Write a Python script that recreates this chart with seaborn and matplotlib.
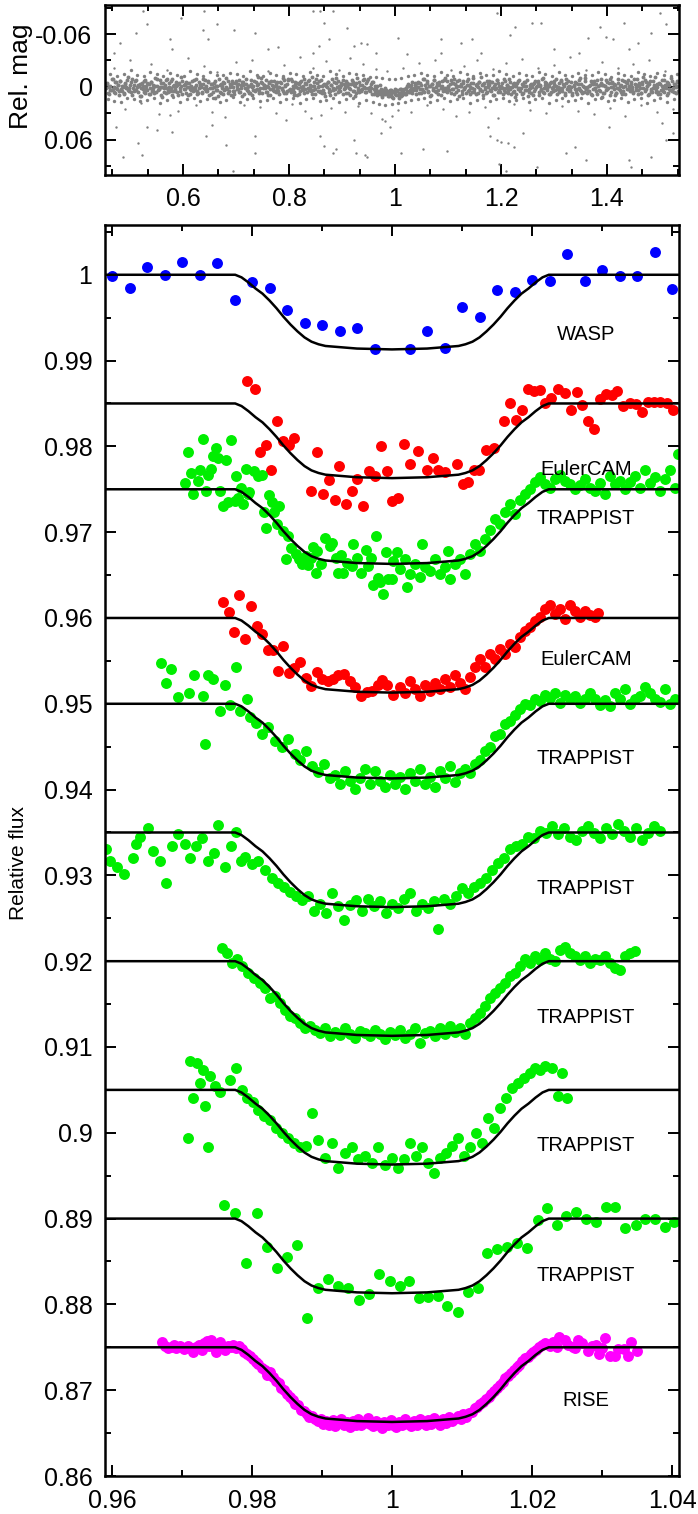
import numpy as np
import matplotlib
matplotlib.use("Agg")
import matplotlib.pyplot as plt
import seaborn as sns
from matplotlib.ticker import MultipleLocator, FuncFormatter

# ---------------- data ----------------
# top panel: folded WASP light curve, phase in 1/1000, mag in 1e-4
band_phase_milli = [
    455, 457, 460, 462, 464, 467, 469, 470, 473, 475, 477, 480,
    482, 485, 486, 489, 491, 493, 496, 498, 499, 502, 504, 507,
    509, 511, 514, 516, 517, 520, 522, 525, 527, 528, 531, 533,
    536, 538, 540, 543, 544, 547, 549, 551, 554, 556, 557, 560,
    562, 565, 567, 569, 572, 573, 576, 578, 580, 583, 585, 586,
    589, 591, 594, 596, 598, 601, 602, 605, 607, 609, 612, 614,
    615, 618, 620, 623, 625, 627, 630, 631, 634, 636, 638, 641,
    643, 644, 647, 649, 652, 654, 656, 659, 660, 663, 665, 667,
    670, 672, 673, 676, 678, 681, 683, 685, 688, 689, 692, 694,
    696, 699, 701, 702, 705, 707, 710, 712, 714, 717, 718, 721,
    723, 725, 728, 730, 731, 734, 736, 739, 741, 743, 746, 747,
    750, 752, 754, 757, 759, 760, 763, 765, 768, 770, 772, 775,
    776, 779, 781, 783, 786, 788, 789, 792, 794, 797, 799, 801,
    804, 805, 808, 810, 812, 815, 817, 818, 821, 823, 826, 828,
    830, 833, 834, 837, 839, 841, 844, 846, 847, 850, 852, 855,
    857, 859, 862, 863, 866, 868, 870, 873, 875, 876, 879, 881,
    884, 886, 888, 891, 892, 895, 897, 899, 902, 904, 905, 908,
    910, 913, 915, 917, 920, 921, 924, 926, 928, 931, 933, 934,
    937, 939, 942, 944, 946, 949, 950, 953, 955, 957, 960, 962,
    963, 966, 968, 971, 973, 975, 978, 979, 982, 984, 986, 989,
    991, 992, 995, 997, 1000, 1002, 1004, 1007, 1008, 1011, 1013, 1015,
    1018, 1020, 1021, 1024, 1026, 1029, 1031, 1033, 1036, 1037, 1040, 1042,
    1044, 1047, 1049, 1050, 1053, 1055, 1058, 1060, 1062, 1065, 1066, 1069,
    1071, 1073, 1076, 1078, 1079, 1082, 1084, 1087, 1089, 1091, 1094, 1095,
    1098, 1100, 1102, 1105, 1107, 1108, 1111, 1113, 1116, 1118, 1120, 1123,
    1124, 1127, 1129, 1131, 1134, 1136, 1137, 1140, 1142, 1145, 1147, 1149,
    1152, 1153, 1156, 1158, 1160, 1163, 1165, 1166, 1169, 1171, 1174, 1176,
    1178, 1181, 1182, 1185, 1187, 1189, 1192, 1194, 1195, 1198, 1200, 1203,
    1205, 1207, 1210, 1211, 1214, 1216, 1218, 1221, 1223, 1224, 1227, 1229,
    1232, 1234, 1236, 1239, 1240, 1243, 1245, 1247, 1250, 1252, 1253, 1256,
    1258, 1261, 1263, 1265, 1268, 1269, 1272, 1274, 1276, 1279, 1281, 1282,
    1285, 1287, 1290, 1292, 1294, 1297, 1298, 1301, 1303, 1305, 1308, 1310,
    1311, 1314, 1316, 1319, 1321, 1323, 1326, 1327, 1330, 1332, 1334, 1337,
    1339, 1340, 1343, 1345, 1348, 1350, 1352, 1355, 1356, 1359, 1361, 1363,
    1366, 1368, 1369, 1372, 1374, 1377, 1379, 1381, 1384, 1385, 1388, 1390,
    1392, 1395, 1397, 1398, 1401, 1403, 1406, 1408, 1410, 1413, 1414, 1417,
    1419, 1421, 1424, 1426, 1427, 1430, 1432, 1435, 1437, 1439, 1442, 1443,
    1446, 1448, 1450, 1453, 1455, 1456, 1459, 1461, 1464, 1466, 1468, 1471,
    1472, 1475, 1477, 1479, 1482, 1484, 1485, 1488, 1490, 1493, 1495, 1497,
    1500, 1501, 1504, 1506, 1508, 1511, 1513, 1514, 1517, 1519, 1522, 1524,
    1526, 1529, 1530, 1533, 1535]
band_mag_e4 = [
    12, -45, 78, -8, 33, -92, 55, 4, -61, 27, -19, 88,
    -70, 41, -3, 66, -38, 15, -115, 49, 9, -52, 96, -24,
    37, -81, 2, 58, -14, 104, -47, 21, -66, 73, -5, 30,
    -28, 85, -56, 11, 47, -99, 63, -12, 25, -74, 6, 118,
    -40, 17, 69, -88, 35, -2, 52, -63, 90, -21, 44, -7,
    61, -33, 8, -107, 76, -18, 29, -54, 3, 95, -41, 19,
    -9, 50, -77, 36, -25, 82, -60, 14, -3, 67, -94, 23,
    45, -16, -70, 91, -36, 7, 58, -48, 126, -11, 32, -85,
    -22, 74, 10, -58, 39, -97, 18, 64, -30, 1, -68, 51,
    83, -44, 26, -6, -79, 57, -27, 100, -52, 13, -90, 40,
    -13, 69, -38, 4, 87, -63, 31, -20, -110, 46, 9, -57,
    71, -26, 15, -84, 53, -4, -42, 92, -17, 34, -72, 60,
    -35, 5, 80, -51, 22, -96, 43, -10, 66, -29, -81, 18,
    54, -64, 28, 97, -23, -46, 11, 75, -58, -2, 39, -87,
    20, -31, 63, -75, 8, 48, -112, 30, -15, 84, -50, 2,
    -66, 41, -12, 70, -37, 105, -8, -55, 26, 61, -24, -93,
    16, 79, -43, 6, -70, 35, 52, -19, -84, 24, -1, 67,
    -48, 13, 90, -32, 44, -61, -7, 73, -98, 37, 58, -20,
    27, -73, 3, 62, -39, 17, -86, 49, 10, -56, 81, -14,
    42, -5, 68, -27, 55, 90, 31, 78, 12, 66, 104, 47,
    85, 36, 118, 60, 22, 97, 48, 130, 74, 28, 92, 55,
    70, 14, 83, -10, 57, 40, -26, 66, 9, -48, 35, -3,
    -58, 24, 71, -19, 46, -87, 12, -40, 63, -6, 98, -33,
    30, -77, 52, -1, -44, 86, -23, 15, -65, 41, 7, -100,
    59, -14, 34, -82, 20, -50, 77, -28, 4, -62, 108, -9,
    -37, 47, -71, 11, 64, -25, -89, 39, -4, 56, -46, 23,
    81, -18, 6, -59, 33, -118, 50, -30, 18, 72, -66, 2,
    -21, 44, -53, 95, -12, 28, -76, 60, -40, 9, -5, 85,
    37, -63, 14, -26, 68, -91, 25, -2, 53, -47, 120, -16,
    -68, 7, 46, -35, 79, -11, -57, 32, -84, 19, 61, -29,
    3, 90, -50, 24, -8, -72, 57, -22, 40, -99, 14, 65,
    -45, 31, -6, 76, -60, 12, 49, -34, -88, 22, -3, 58,
    17, -79, 43, -15, 94, -41, 6, -67, 35, -1, 71, -24,
    -54, 28, 82, -36, 9, -103, 47, -11, 63, -70, 20, -4,
    41, -19, -62, 88, -30, 15, 52, -83, -7, 36, -45, 110,
    -27, 64, -9, -74, 26, -48, 93, 5, -58, 18, -36, 73,
    11, -87, 39, -20, 57, -3, -66, 80, -42, 29, -13, 48,
    -61, 22, 67, -31, 4, -95, 35, -16, 74, -52, 10, -78,
    46, -6, -40, 85, -69, 19, 55, -25, -113, 31, -1, 62,
    -34, 76, -12, 41, -82, 8, -54, 97, -21, 37, -64, 16,
    59, -28, 3, -70, 44]
band2_phase_milli = [
    456, 459, 461, 463, 466, 468, 471, 472, 474, 477, 479, 481,
    483, 484, 488, 490, 492, 495, 497, 500, 501, 503, 506, 508,
    510, 512, 515, 518, 519, 521, 524, 526, 529, 530, 532, 535,
    537, 539, 542, 544, 546, 548, 550, 553, 555, 558, 559, 561,
    564, 566, 568, 570, 571, 574, 577, 579, 581, 582, 584, 587,
    588, 590, 593, 595, 597, 599, 603, 604, 606, 608, 611, 613,
    616, 617, 619, 622, 624, 626, 628, 632, 633, 635, 637, 640,
    642, 645, 646, 648, 651, 653, 655, 658, 661, 662, 664, 666,
    669, 671, 674, 675, 677, 680, 682, 684, 686, 690, 691, 693,
    695, 697, 700, 703, 704, 706, 709, 711, 713, 716, 719, 720,
    722, 724, 727, 729, 732, 733, 735, 738, 740, 742, 744, 748,
    749, 751, 753, 756, 758, 761, 762, 764, 767, 769, 771, 773,
    777, 778, 780, 782, 785, 787, 790, 791, 793, 796, 798, 800,
    803, 806, 807, 809, 811, 814, 816, 819, 820, 822, 825, 827,
    829, 831, 835, 836, 838, 840, 843, 845, 848, 849, 851, 854,
    856, 858, 860, 864, 865, 867, 869, 872, 874, 877, 878, 880,
    883, 885, 887, 889, 893, 894, 896, 898, 901, 903, 906, 907,
    909, 911, 914, 916, 918, 922, 923, 925, 927, 930, 932, 935,
    936, 938, 941, 943, 945, 947, 951, 952, 954, 956, 959, 961,
    964, 965, 967, 970, 972, 974, 976, 980, 981, 983, 985, 988,
    990, 993, 994, 996, 999, 1001, 1003, 1005, 1009, 1010, 1012, 1014,
    1017, 1019, 1022, 1023, 1025, 1028, 1030, 1032, 1034, 1038, 1039, 1041,
    1043, 1045, 1048, 1051, 1052, 1054, 1057, 1059, 1061, 1063, 1067, 1068,
    1070, 1072, 1074, 1077, 1080, 1081, 1083, 1086, 1088, 1090, 1092, 1096,
    1097, 1099, 1101, 1103, 1106, 1109, 1110, 1112, 1115, 1117, 1119, 1121,
    1125, 1126, 1128, 1130, 1132, 1135, 1138, 1139, 1141, 1144, 1146, 1148,
    1150, 1154, 1155, 1157, 1159, 1161, 1164, 1167, 1168, 1170, 1173, 1175,
    1177, 1179, 1183, 1184, 1186, 1188, 1190, 1193, 1196, 1197, 1199, 1202,
    1204, 1206, 1208, 1212, 1213, 1215, 1217, 1219, 1222, 1225, 1226, 1228,
    1231, 1233, 1235, 1237, 1241, 1242, 1244, 1246, 1248, 1251, 1254, 1255,
    1257, 1260, 1262, 1264, 1266, 1270, 1271, 1273, 1275, 1277, 1280, 1283,
    1284, 1286, 1289, 1291, 1293, 1295, 1299, 1300, 1302, 1304, 1306, 1309,
    1312, 1313, 1315, 1318, 1320, 1322, 1324, 1328, 1329, 1331, 1333, 1335,
    1338, 1341, 1342, 1344, 1347, 1349, 1351, 1353, 1357, 1358, 1360, 1362,
    1364, 1367, 1370, 1371, 1373, 1376, 1378, 1380, 1382, 1386, 1387, 1389,
    1391, 1393, 1396, 1399, 1400, 1402, 1405, 1407, 1409, 1411, 1415, 1416,
    1418, 1420, 1422, 1425, 1428, 1429, 1431, 1434, 1436, 1438, 1440, 1444,
    1445, 1447, 1449, 1451, 1454, 1457, 1458, 1460, 1463, 1465, 1467, 1469,
    1473, 1474, 1476, 1478, 1480, 1483, 1486, 1487, 1489, 1492, 1494, 1496,
    1498, 1502, 1503, 1505, 1507, 1509, 1512, 1515, 1516, 1518, 1521, 1523,
    1525, 1527, 1531, 1532, 1534]
band2_mag_e4 = [
    -31, 64, -2, 40, -86, 19, -53, 71, 8, -24, 47, -69,
    26, -9, 83, -45, 5, -78, 38, -17, 61, -92, 14, 52,
    -64, 35, -20, 98, -37, 11, -5, 57, -83, 29, -48, 76,
    7, -58, 43, -26, 70, -12, -95, 33, 18, -41, 88, -3,
    55, -22, -74, 14, 62, -46, 9, -87, 41, -15, 26, -60,
    -18, 92, -39, 51, -6, -71, 24, -33, 67, -50, 3, 80,
    34, -66, 17, -1, -89, 45, 73, -28, -12, 58, -37, 9,
    -77, 21, 49, -54, 13, 84, -31, 6, -63, 39, -8, 102,
    63, -35, -11, 77, -49, 28, -2, -72, 46, -19, 91, -43,
    -4, 48, -67, 23, -29, 61, 10, -56, -21, 86, -38, 15,
    52, -16, 72, -84, 30, -7, 44, -61, 19, -33, 68, -98,
    -46, 7, -27, 59, -8, 95, -52, 21, -69, 12, 41, -14,
    24, -59, 50, -3, -40, 16, -76, 65, -23, 47, -88, 32,
    -85, 39, -14, 62, -51, 2, 87, -29, 45, -71, 18, -6,
    69, -43, 10, -63, 36, -24, 78, -9, -55, 27, -92, 49,
    -11, 56, -80, 31, -19, 74, -36, 6, -58, 42, 90, -25,
    38, -52, 22, -97, 61, -13, 4, -45, 83, -31, 15, -70,
    -7, 71, -34, 26, -79, 48, -18, 99, -42, 8, -60, 33,
    46, -20, -88, 12, 57, -65, 35, -4, -30, 79, -51, 20,
    60, 23, 95, 41, 76, 18, 112, 50, 84, 33, 68, 102,
    39, 88, 57, 125, 46, 80, 30, 95, 64, 22, 107, 51,
    20, 77, -8, 49, -36, 63, 11, -54, 38, -17, 82, -45,
    -2, 66, -47, 19, -90, 54, -25, 8, -69, 43, -12, 87,
    -38, 13, -73, 60, -21, 35, -56, 96, -10, 25, -82, 48,
    31, -66, 5, -29, 72, -44, 18, -94, 57, -6, 39, -75,
    -15, 85, -50, 27, -3, -64, 47, -26, 81, -40, 11, -105,
    58, -8, -37, 66, -53, 21, -19, 89, -47, 3, 62, -28,
    -71, 40, 12, -56, 94, -33, 7, -82, 30, -14, 53, -39,
    17, -95, 61, -22, 38, -4, -60, 75, -35, 50, -10, 86,
    -44, 26, -81, 8, -18, 69, -57, 37, -6, 103, -26, 14,
    73, -30, 47, -65, 2, -48, 91, -13, 28, -86, 59, -21,
    -58, 9, -23, 83, -41, 56, -1, -72, 36, -11, 78, -46,
    32, -68, 15, -36, 70, -90, 25, 48, -16, 6, -54, 95,
    -9, 54, -43, 18, -77, 40, -28, 64, -3, -99, 22, 71,
    43, -12, 86, -48, 27, -67, 9, -34, 79, -20, 51, -88,
    -26, 68, -5, 36, -60, 14, -92, 53, -39, 3, 97, -18,
    65, -47, 20, -13, 82, -73, 41, -6, -51, 29, -84, 12,
    -36, 6, 59, -87, 34, -21, 75, -44, 10, 66, -30, -115,
    22, -56, -15, 93, -38, 47, -70, 16, -2, 55, -28, 84,
    -50, 35, -79, 8, 62, -25, -6, 71, -42, 19, -96, 44,
    13, -33, 67, -8, -60]
# thinner fringe of the band (phase in 1/1000, mag in 1e-4)
fringe = [
    (458, 132), (463, -141), (470, 158), (476, -127), (483, 175), (489, -150), (495, 121),
    (502, -188), (507, 139), (514, -133), (519, 164), (526, -119), (532, 147), (538, -172),
    (545, 126), (551, -144), (557, 183), (563, -129), (569, 152), (576, -161), (582, 118),
    (588, -137), (594, 169), (601, -124), (607, 142), (613, -179), (620, 131), (626, -146),
    (632, 160), (638, -122), (645, 137), (651, -168), (657, 124), (664, -139), (670, 176),
    (676, -131), (682, 148), (689, -155), (695, 120), (701, -143), (707, 166), (714, -126),
    (720, 139), (726, -182), (733, 128), (739, -134), (745, 157), (751, -120), (758, 145),
    (764, -163), (770, 122), (776, -140), (783, 171), (789, -129), (795, 136), (801, -158),
    (808, 125), (814, -147), (820, 184), (826, -123), (833, 141), (839, -170), (845, 130),
    (852, -136), (858, 162), (864, -121), (870, 149), (877, -186), (883, 127), (889, -142),
    (895, 167), (902, -128), (908, 135), (914, -159), (920, 123), (927, -145), (933, 178),
    (939, -130), (946, 150), (952, -117), (958, 172), (964, -112), (970, 190), (976, -98),
    (982, 205), (988, -90), (994, 198), (1000, -95), (1006, 188), (1012, -105), (1018, 176),
    (1024, -124), (1030, 151), (1036, -138), (1043, 133), (1049, -162), (1055, 126),
    (1061, -131), (1067, 170), (1073, -125), (1079, 143), (1086, -175), (1092, 129),
    (1098, -140), (1104, 158), (1110, -119), (1117, 137), (1123, -166), (1129, 124),
    (1135, -148), (1141, 181), (1148, -127), (1154, 146), (1160, -153), (1166, 121),
    (1172, -135), (1179, 165), (1185, -130), (1191, 140), (1197, -184), (1203, 127),
    (1210, -141), (1216, 161), (1222, -121), (1228, 150), (1234, -157), (1241, 123),
    (1247, -138), (1253, 174), (1259, -128), (1265, 134), (1272, -167), (1278, 128),
    (1284, -145), (1290, 179), (1296, -124), (1303, 144), (1309, -171), (1315, 125),
    (1321, -133), (1327, 163), (1334, -120), (1340, 147), (1346, -160), (1352, 122),
    (1358, -139), (1365, 185), (1371, -131), (1377, 138), (1383, -174), (1389, 126),
    (1396, -143), (1402, 159), (1408, -118), (1414, 151), (1420, -156), (1427, 124),
    (1433, -136), (1439, 172), (1445, -129), (1451, 139), (1458, -165), (1464, 127),
    (1470, -147), (1476, 180), (1482, -122), (1489, 145), (1495, -162), (1501, 123),
    (1507, -137), (1513, 168), (1520, -126), (1526, 141), (1532, -150)]
# scattered outliers of the top panel (phase, rel. mag)
outliers = [
    (0.525, -0.086), (0.533, -0.071), (0.511, -0.061), (0.481, -0.050), (0.470, -0.039),
    (0.575, -0.054), (0.580, -0.043), (0.597, -0.078), (0.639, -0.086), (0.637, -0.065),
    (0.648, -0.054), (0.665, -0.071), (0.696, -0.065), (0.736, -0.061), (0.761, -0.043),
    (0.780, -0.045), (0.846, -0.086), (0.858, -0.086), (0.867, -0.073), (0.875, -0.054),
    (0.856, -0.047), (0.846, -0.039), (0.884, -0.086), (0.909, -0.067), (0.922, -0.047),
    (0.935, -0.050), (0.947, -0.049), (0.964, -0.039), (1.006, -0.056), (1.023, -0.037),
    (1.086, -0.054), (1.086, -0.039), (1.124, -0.050), (1.145, -0.054), (1.162, -0.039),
    (1.192, -0.084), (1.217, -0.059), (1.226, -0.068), (1.259, -0.072), (1.276, -0.072),
    (1.301, -0.043), (1.348, -0.039), (1.365, -0.056), (1.386, -0.068), (1.398, -0.057),
    (1.411, -0.054), (1.432, -0.072), (1.458, -0.050), (1.483, -0.061), (1.512, -0.071),
    (1.500, -0.084), (1.441, -0.043),
    (0.474, 0.045), (0.486, 0.079), (0.516, 0.064), (0.523, 0.077), (0.533, 0.045),
    (0.550, 0.049), (0.575, 0.032), (0.580, 0.051), (0.643, 0.056), (0.655, 0.043),
    (0.681, 0.066), (0.694, 0.095), (0.736, 0.056), (0.736, 0.075), (0.795, 0.037),
    (0.841, 0.035), (0.858, 0.056), (0.867, 0.067), (0.884, 0.075), (0.888, 0.071),
    (0.922, 0.060), (0.926, 0.075), (0.943, 0.077), (0.947, 0.079), (0.973, 0.052),
    (0.981, 0.039), (0.990, 0.045), (1.011, 0.075), (1.053, 0.070), (1.099, 0.073),
    (1.175, 0.045), (1.179, 0.056), (1.192, 0.060), (1.200, 0.062), (1.213, 0.064),
    (1.242, 0.052), (1.225, 0.068), (1.196, 0.087), (1.209, 0.095), (1.268, 0.091),
    (1.323, 0.075), (1.340, 0.068), (1.361, 0.083), (1.403, 0.045), (1.441, 0.083),
    (1.445, 0.091), (1.483, 0.079), (1.512, 0.060), (1.504, 0.041), (1.525, 0.052),
    (0.47, -0.022), (0.49, 0.025), (0.50, -0.030), (0.52, 0.018), (0.54, -0.026),
    (0.555, 0.031), (0.57, -0.019), (0.59, 0.027), (0.61, -0.033), (0.625, 0.021),
    (0.64, -0.024), (0.655, 0.029), (0.665, -0.017), (0.68, 0.034), (0.70, -0.028),
    (0.715, 0.020), (0.73, -0.031), (0.745, 0.023), (0.76, -0.018), (0.775, 0.030),
    (0.79, -0.025), (0.805, 0.019), (0.82, -0.034), (0.83, 0.027), (0.845, -0.021),
    (0.86, 0.032), (0.87, -0.029), (0.88, 0.024), (0.895, -0.019), (0.905, 0.028),
    (0.915, -0.033), (0.93, 0.022), (0.94, -0.026), (0.955, 0.030), (0.965, -0.020),
    (0.975, 0.036), (0.985, -0.018), (0.995, 0.033), (1.005, 0.026), (1.015, -0.022),
    (1.03, 0.029), (1.045, -0.027), (1.06, 0.021), (1.075, -0.031), (1.09, 0.025),
    (1.105, -0.019), (1.115, 0.033), (1.13, -0.024), (1.14, 0.028), (1.155, -0.030),
    (1.17, 0.023), (1.185, -0.020), (1.195, 0.035), (1.21, -0.027), (1.225, 0.019),
    (1.24, -0.032), (1.255, 0.026), (1.27, -0.021), (1.285, 0.030), (1.30, -0.025),
    (1.315, 0.022), (1.33, -0.034), (1.345, 0.027), (1.36, -0.019), (1.375, 0.031),
    (1.39, -0.028), (1.405, 0.024), (1.42, -0.022), (1.435, 0.033), (1.45, -0.026),
    (1.465, 0.020), (1.48, -0.031), (1.495, 0.028), (1.51, -0.018), (1.525, 0.025)]

# transit model shape (depth below each baseline)
model_phase = [0.959, 0.9776, 0.9785, 0.9795, 0.9805, 0.9815, 0.9825, 0.9835, 0.9845,
               0.9855, 0.9865, 0.9875, 0.9885, 0.9895, 0.9905, 0.9920, 0.9950, 1.0000,
               1.0050, 1.0080, 1.0095, 1.0105, 1.0115, 1.0125, 1.0135, 1.0145, 1.0155,
               1.0165, 1.0175, 1.0185, 1.0195, 1.0205, 1.0215, 1.0224, 1.041]
model_depth = [0.0, 0.0, 0.0003, 0.0009, 0.0016, 0.0022, 0.0030, 0.0039, 0.0049,
               0.0058, 0.0066, 0.0073, 0.0078, 0.0081, 0.0083, 0.0084, 0.0086, 0.0087,
               0.0086, 0.0084, 0.0083, 0.0081, 0.0078, 0.0073, 0.0066, 0.0058, 0.0049,
               0.0039, 0.0030, 0.0022, 0.0016, 0.0009, 0.0003, 0.0, 0.0]
model_baselines = [1.0, 0.985, 0.975, 0.96, 0.95, 0.935, 0.92, 0.905, 0.89, 0.875]

# lower panel light curves
wasp_phase = [0.9600, 0.9625, 0.9650, 0.9675, 0.9700, 0.9725, 0.9750, 0.9775, 0.9800, 0.9825,
              0.9850, 0.9875, 0.9900, 0.9925, 0.9950, 0.9975, 1.0025, 1.0050, 1.0075, 1.0100,
              1.0125, 1.0150, 1.0175, 1.0200, 1.0225, 1.0250, 1.0275, 1.0300, 1.0325, 1.0350,
              1.0375, 1.0400]
wasp_flux = [0.9999, 0.9984, 1.0009, 1.0000, 1.0015, 1.0000, 1.0014, 0.9971, 0.9992, 0.9985,
             0.9959, 0.9944, 0.9942, 0.9935, 0.9938, 0.9913, 0.9913, 0.9934, 0.9915, 0.9963,
             0.9951, 0.9982, 0.9980, 0.9994, 0.9993, 1.0024, 0.9993, 1.0005, 0.9998, 0.9998,
             1.0026, 0.9983]

euler1 = [
    (0.9793, 0.9876), (0.9804, 0.9867), (0.9811, 0.9793), (0.9820, 0.9802), (0.9827, 0.9772),
    (0.9836, 0.9829), (0.9844, 0.9806), (0.9853, 0.9802), (0.9860, 0.9810), (0.9884, 0.9748),
    (0.9893, 0.9793), (0.9901, 0.9745), (0.9910, 0.9761), (0.9919, 0.9737), (0.9924, 0.9777),
    (0.9934, 0.9733), (0.9943, 0.9748), (0.9950, 0.9762), (0.9959, 0.9730), (0.9967, 0.9771),
    (0.9976, 0.9765), (0.9984, 0.9800), (0.9993, 0.9771), (1.0000, 0.9736), (1.0009, 0.9740),
    (1.0017, 0.9803), (1.0026, 0.9780), (1.0037, 0.9795), (1.0050, 0.9773), (1.0059, 0.9786),
    (1.0066, 0.9773), (1.0076, 0.9770), (1.0093, 0.9780), (1.0101, 0.9756), (1.0109, 0.9758),
    (1.0117, 0.9772), (1.0124, 0.9772), (1.0134, 0.9796), (1.0146, 0.9798), (1.0160, 0.9829),
    (1.0169, 0.9851), (1.0177, 0.9831), (1.0186, 0.9842), (1.0194, 0.9867), (1.0203, 0.9865),
    (1.0211, 0.9866), (1.0219, 0.9851), (1.0227, 0.9856), (1.0237, 0.9867), (1.0247, 0.9862),
    (1.0256, 0.9842), (1.0264, 0.9863), (1.0271, 0.9848), (1.0280, 0.9829), (1.0289, 0.9820),
    (1.0297, 0.9855), (1.0306, 0.9861), (1.0314, 0.9860), (1.0321, 0.9865), (1.0330, 0.9847),
    (1.0340, 0.9850), (1.0349, 0.9849), (1.0357, 0.9840), (1.0366, 0.9852), (1.0374, 0.9852),
    (1.0383, 0.9852), (1.0393, 0.9851), (1.0401, 0.9842)]

trappist1 = [
    (0.9704, 0.9757), (0.9709, 0.9794), (0.9713, 0.9769), (0.9716, 0.9744), (0.9723, 0.9760),
    (0.9726, 0.9772), (0.9730, 0.9809), (0.9734, 0.9748), (0.9737, 0.9767), (0.9741, 0.9774),
    (0.9744, 0.9789), (0.9749, 0.9798), (0.9751, 0.9786), (0.9754, 0.9748), (0.9759, 0.9730),
    (0.9763, 0.9784), (0.9766, 0.9735), (0.9770, 0.9808), (0.9776, 0.9736), (0.9777, 0.9766),
    (0.9780, 0.9740), (0.9784, 0.9751), (0.9787, 0.9733), (0.9791, 0.9774), (0.9794, 0.9745),
    (0.9796, 0.9747), (0.9803, 0.9771), (0.9809, 0.9766), (0.9814, 0.9767), (0.9817, 0.9724),
    (0.9820, 0.9705), (0.9824, 0.9743), (0.9829, 0.9735), (0.9831, 0.9723), (0.9836, 0.9709),
    (0.9839, 0.9730), (0.9844, 0.9701), (0.9849, 0.9669), (0.9851, 0.9695), (0.9856, 0.9681),
    (0.9863, 0.9674), (0.9867, 0.9669), (0.9871, 0.9663), (0.9877, 0.9672), (0.9880, 0.9662),
    (0.9884, 0.9670), (0.9887, 0.9683), (0.9891, 0.9652), (0.9893, 0.9678), (0.9899, 0.9663),
    (0.9904, 0.9693), (0.9911, 0.9684), (0.9914, 0.9687), (0.9920, 0.9670), (0.9923, 0.9653),
    (0.9927, 0.9673), (0.9930, 0.9653), (0.9936, 0.9664), (0.9943, 0.9660), (0.9944, 0.9686),
    (0.9950, 0.9670), (0.9956, 0.9653), (0.9963, 0.9679), (0.9966, 0.9660), (0.9970, 0.9670),
    (0.9973, 0.9638), (0.9977, 0.9695), (0.9980, 0.9647), (0.9983, 0.9642), (0.9987, 0.9628),
    (0.9991, 0.9677), (0.9994, 0.9645), (1.0000, 0.9645), (1.0001, 0.9666), (1.0007, 0.9677),
    (1.0011, 0.9657), (1.0019, 0.9669), (1.0022, 0.9636), (1.0026, 0.9651), (1.0033, 0.9663),
    (1.0040, 0.9648), (1.0043, 0.9686), (1.0047, 0.9659), (1.0054, 0.9655), (1.0061, 0.9669),
    (1.0069, 0.9651), (1.0076, 0.9659), (1.0080, 0.9678), (1.0083, 0.9645), (1.0090, 0.9663),
    (1.0097, 0.9669), (1.0104, 0.9651), (1.0111, 0.9674), (1.0119, 0.9686), (1.0126, 0.9678),
    (1.0133, 0.9692), (1.0140, 0.9703), (1.0147, 0.9715), (1.0154, 0.9709), (1.0161, 0.9724),
    (1.0169, 0.9733), (1.0176, 0.9721), (1.0183, 0.9738), (1.0190, 0.9744), (1.0197, 0.9750),
    (1.0204, 0.9758), (1.0211, 0.9764), (1.0219, 0.9756), (1.0226, 0.9752), (1.0233, 0.9762),
    (1.0240, 0.9767), (1.0247, 0.9760), (1.0254, 0.9756), (1.0261, 0.9750), (1.0269, 0.9755),
    (1.0276, 0.9762), (1.0283, 0.9752), (1.0290, 0.9748), (1.0297, 0.9757), (1.0304, 0.9744),
    (1.0311, 0.9765), (1.0319, 0.9756), (1.0326, 0.9760), (1.0333, 0.9750), (1.0340, 0.9759),
    (1.0347, 0.9766), (1.0354, 0.9752), (1.0361, 0.9773), (1.0369, 0.9757), (1.0376, 0.9764),
    (1.0383, 0.9748), (1.0390, 0.9762), (1.0397, 0.9773), (1.0404, 0.9752), (1.0409, 0.9791)]

euler2 = [
    (0.9759, 0.9619), (0.9767, 0.9607), (0.9774, 0.9584), (0.9781, 0.9627), (0.9790, 0.9576),
    (0.9799, 0.9614), (0.9807, 0.9591), (0.9814, 0.9581), (0.9823, 0.9563), (0.9830, 0.9563),
    (0.9837, 0.9538), (0.9844, 0.9567), (0.9853, 0.9536), (0.9860, 0.9542), (0.9869, 0.9549),
    (0.9877, 0.9530), (0.9884, 0.9521), (0.9893, 0.9537), (0.9900, 0.9529), (0.9909, 0.9526),
    (0.9916, 0.9529), (0.9923, 0.9533), (0.9931, 0.9535), (0.9940, 0.9526), (0.9947, 0.9520),
    (0.9956, 0.9509), (0.9964, 0.9514), (0.9971, 0.9515), (0.9980, 0.9522), (0.9986, 0.9528),
    (0.9993, 0.9522), (1.0001, 0.9510), (1.0011, 0.9520), (1.0019, 0.9512), (1.0026, 0.9527),
    (1.0033, 0.9517), (1.0040, 0.9509), (1.0047, 0.9522), (1.0054, 0.9515), (1.0061, 0.9524),
    (1.0069, 0.9517), (1.0076, 0.9529), (1.0083, 0.9520), (1.0090, 0.9534), (1.0097, 0.9524),
    (1.0104, 0.9517), (1.0111, 0.9531), (1.0119, 0.9543), (1.0126, 0.9552), (1.0133, 0.9543),
    (1.0140, 0.9558), (1.0147, 0.9552), (1.0154, 0.9564), (1.0161, 0.9558), (1.0169, 0.9570),
    (1.0176, 0.9566), (1.0183, 0.9578), (1.0190, 0.9585), (1.0197, 0.9590), (1.0204, 0.9597),
    (1.0211, 0.9601), (1.0219, 0.9610), (1.0226, 0.9615), (1.0233, 0.9605), (1.0240, 0.9610),
    (1.0247, 0.9599), (1.0254, 0.9615), (1.0261, 0.9608), (1.0269, 0.9601), (1.0276, 0.9608),
    (1.0283, 0.9603), (1.0290, 0.9601), (1.0294, 0.9606)]

trappist2 = [
    (0.9670, 0.9548), (0.9677, 0.9524), (0.9684, 0.9540), (0.9694, 0.9508), (0.9710, 0.9513),
    (0.9717, 0.9533), (0.9730, 0.9509), (0.9733, 0.9453), (0.9737, 0.9533), (0.9744, 0.9529),
    (0.9754, 0.9492), (0.9761, 0.9522), (0.9769, 0.9499), (0.9777, 0.9543), (0.9783, 0.9492),
    (0.9793, 0.9506), (0.9797, 0.9485), (0.9806, 0.9478), (0.9814, 0.9465), (0.9823, 0.9473),
    (0.9833, 0.9457), (0.9843, 0.9450), (0.9851, 0.9459), (0.9861, 0.9442), (0.9869, 0.9434),
    (0.9877, 0.9445), (0.9886, 0.9427), (0.9894, 0.9420), (0.9903, 0.9430), (0.9911, 0.9413),
    (0.9919, 0.9417), (0.9926, 0.9406), (0.9933, 0.9422), (0.9940, 0.9410), (0.9947, 0.9401),
    (0.9954, 0.9414), (0.9961, 0.9424), (0.9969, 0.9406), (0.9976, 0.9422), (0.9983, 0.9410),
    (0.9990, 0.9403), (0.9997, 0.9417), (1.0004, 0.9407), (1.0011, 0.9415), (1.0019, 0.9401),
    (1.0026, 0.9419), (1.0033, 0.9410), (1.0040, 0.9424), (1.0047, 0.9407), (1.0054, 0.9415),
    (1.0061, 0.9403), (1.0069, 0.9422), (1.0076, 0.9413), (1.0083, 0.9427), (1.0090, 0.9409),
    (1.0097, 0.9419), (1.0104, 0.9424), (1.0111, 0.9419), (1.0119, 0.9430), (1.0126, 0.9434),
    (1.0133, 0.9445), (1.0140, 0.9450), (1.0147, 0.9462), (1.0154, 0.9465), (1.0161, 0.9476),
    (1.0169, 0.9480), (1.0176, 0.9487), (1.0183, 0.9494), (1.0190, 0.9500), (1.0197, 0.9499),
    (1.0204, 0.9506), (1.0211, 0.9503), (1.0219, 0.9510), (1.0226, 0.9507), (1.0233, 0.9512),
    (1.0240, 0.9501), (1.0247, 0.9510), (1.0254, 0.9506), (1.0261, 0.9509), (1.0269, 0.9501),
    (1.0276, 0.9506), (1.0283, 0.9512), (1.0290, 0.9506), (1.0297, 0.9499), (1.0304, 0.9504),
    (1.0311, 0.9497), (1.0319, 0.9513), (1.0326, 0.9506), (1.0333, 0.9517), (1.0340, 0.9500),
    (1.0347, 0.9506), (1.0354, 0.9509), (1.0361, 0.9520), (1.0369, 0.9513), (1.0376, 0.9506),
    (1.0383, 0.9502), (1.0390, 0.9517), (1.0397, 0.9500), (1.0404, 0.9506)]

trappist3 = [
    (0.9591, 0.9331), (0.9597, 0.9317), (0.9607, 0.9310), (0.9617, 0.9302), (0.9630, 0.9320),
    (0.9634, 0.9337), (0.9640, 0.9345), (0.9651, 0.9355), (0.9659, 0.9328), (0.9669, 0.9317),
    (0.9677, 0.9291), (0.9686, 0.9334), (0.9694, 0.9348), (0.9704, 0.9337), (0.9711, 0.9320),
    (0.9720, 0.9334), (0.9729, 0.9343), (0.9737, 0.9317), (0.9746, 0.9326), (0.9751, 0.9359),
    (0.9761, 0.9310), (0.9770, 0.9334), (0.9777, 0.9351), (0.9784, 0.9317), (0.9790, 0.9322),
    (0.9800, 0.9313), (0.9809, 0.9317), (0.9819, 0.9306), (0.9829, 0.9297), (0.9837, 0.9291),
    (0.9846, 0.9287), (0.9854, 0.9281), (0.9863, 0.9276), (0.9871, 0.9271), (0.9880, 0.9276),
    (0.9889, 0.9259), (0.9897, 0.9267), (0.9906, 0.9256), (0.9914, 0.9279), (0.9923, 0.9264),
    (0.9931, 0.9248), (0.9940, 0.9266), (0.9949, 0.9271), (0.9957, 0.9259), (0.9966, 0.9273),
    (0.9974, 0.9264), (0.9983, 0.9270), (0.9991, 0.9256), (1.0000, 0.9267), (1.0009, 0.9262),
    (1.0017, 0.9273), (1.0026, 0.9279), (1.0034, 0.9259), (1.0043, 0.9267), (1.0051, 0.9262),
    (1.0060, 0.9270), (1.0066, 0.9238), (1.0074, 0.9273), (1.0083, 0.9267), (1.0091, 0.9276),
    (1.0100, 0.9285), (1.0109, 0.9279), (1.0117, 0.9287), (1.0126, 0.9291), (1.0134, 0.9297),
    (1.0143, 0.9306), (1.0151, 0.9314), (1.0160, 0.9320), (1.0169, 0.9331), (1.0177, 0.9334),
    (1.0186, 0.9337), (1.0194, 0.9345), (1.0203, 0.9343), (1.0211, 0.9352), (1.0220, 0.9349),
    (1.0229, 0.9357), (1.0237, 0.9348), (1.0246, 0.9355), (1.0254, 0.9345), (1.0263, 0.9341),
    (1.0271, 0.9352), (1.0280, 0.9357), (1.0289, 0.9349), (1.0297, 0.9343), (1.0306, 0.9355),
    (1.0314, 0.9348), (1.0323, 0.9360), (1.0331, 0.9352), (1.0340, 0.9345), (1.0349, 0.9355),
    (1.0357, 0.9341), (1.0366, 0.9349), (1.0374, 0.9357), (1.0383, 0.9352)]

trappist4 = [
    (0.9757, 0.9215), (0.9764, 0.9209), (0.9771, 0.9198), (0.9779, 0.9203), (0.9786, 0.9194),
    (0.9794, 0.9186), (0.9803, 0.9180), (0.9811, 0.9174), (0.9819, 0.9169), (0.9826, 0.9157),
    (0.9833, 0.9159), (0.9840, 0.9151), (0.9847, 0.9143), (0.9854, 0.9136), (0.9861, 0.9134),
    (0.9869, 0.9128), (0.9876, 0.9122), (0.9883, 0.9124), (0.9890, 0.9120), (0.9897, 0.9116),
    (0.9904, 0.9122), (0.9911, 0.9113), (0.9919, 0.9117), (0.9926, 0.9114), (0.9933, 0.9122),
    (0.9940, 0.9115), (0.9947, 0.9110), (0.9954, 0.9119), (0.9961, 0.9116), (0.9969, 0.9113),
    (0.9976, 0.9120), (0.9983, 0.9115), (0.9990, 0.9109), (0.9997, 0.9117), (1.0004, 0.9114),
    (1.0011, 0.9120), (1.0019, 0.9110), (1.0026, 0.9115), (1.0033, 0.9122), (1.0040, 0.9105),
    (1.0047, 0.9116), (1.0054, 0.9119), (1.0061, 0.9113), (1.0069, 0.9122), (1.0076, 0.9115),
    (1.0083, 0.9124), (1.0090, 0.9117), (1.0097, 0.9122), (1.0104, 0.9115), (1.0111, 0.9128),
    (1.0119, 0.9134), (1.0126, 0.9140), (1.0133, 0.9148), (1.0140, 0.9157), (1.0147, 0.9163),
    (1.0154, 0.9169), (1.0161, 0.9174), (1.0169, 0.9183), (1.0176, 0.9186), (1.0183, 0.9194),
    (1.0190, 0.9203), (1.0197, 0.9198), (1.0204, 0.9206), (1.0211, 0.9201), (1.0219, 0.9209),
    (1.0226, 0.9203), (1.0233, 0.9200), (1.0240, 0.9213), (1.0247, 0.9217), (1.0254, 0.9209),
    (1.0261, 0.9206), (1.0269, 0.9201), (1.0276, 0.9206), (1.0283, 0.9198), (1.0290, 0.9203),
    (1.0297, 0.9201), (1.0304, 0.9206), (1.0311, 0.9198), (1.0319, 0.9192), (1.0326, 0.9190),
    (1.0333, 0.9206), (1.0340, 0.9209), (1.0347, 0.9212)]

trappist5 = [
    (0.9709, 0.8994), (0.9711, 0.9084), (0.9716, 0.9041), (0.9721, 0.9081), (0.9726, 0.9058),
    (0.9730, 0.9073), (0.9733, 0.9031), (0.9737, 0.8983), (0.9740, 0.9066), (0.9747, 0.9055),
    (0.9754, 0.9047), (0.9769, 0.9062), (0.9777, 0.9076), (0.9786, 0.9050), (0.9793, 0.9041),
    (0.9801, 0.9036), (0.9809, 0.9027), (0.9817, 0.9020), (0.9826, 0.9015), (0.9834, 0.9006),
    (0.9843, 0.9000), (0.9851, 0.8994), (0.9860, 0.8988), (0.9869, 0.8983), (0.9877, 0.8985),
    (0.9886, 0.9023), (0.9894, 0.8992), (0.9904, 0.8971), (0.9914, 0.8988), (0.9923, 0.8959),
    (0.9933, 0.8977), (0.9943, 0.8983), (0.9951, 0.8969), (0.9961, 0.8973), (0.9971, 0.8965),
    (0.9980, 0.8983), (0.9990, 0.8962), (1.0000, 0.8971), (1.0009, 0.8959), (1.0017, 0.8969),
    (1.0026, 0.8988), (1.0034, 0.8973), (1.0043, 0.8983), (1.0051, 0.8965), (1.0060, 0.8953),
    (1.0069, 0.8971), (1.0077, 0.8977), (1.0086, 0.8985), (1.0094, 0.8994), (1.0103, 0.8973),
    (1.0111, 0.8983), (1.0120, 0.9000), (1.0129, 0.8988), (1.0137, 0.9017), (1.0146, 0.9006),
    (1.0154, 0.9029), (1.0163, 0.9041), (1.0171, 0.9052), (1.0180, 0.9058), (1.0189, 0.9064),
    (1.0197, 0.9070), (1.0204, 0.9076), (1.0211, 0.9073), (1.0219, 0.9078), (1.0229, 0.9076),
    (1.0237, 0.9043), (1.0243, 0.9070), (1.0250, 0.9041)]

trappist6 = [
    (0.9760, 0.8916), (0.9775, 0.8907), (0.9807, 0.8906), (0.9792, 0.8848), (0.9822, 0.8867),
    (0.9836, 0.8842), (0.9850, 0.8855), (0.9864, 0.8869), (0.9879, 0.8784), (0.9894, 0.8819),
    (0.9909, 0.8830), (0.9923, 0.8822), (0.9937, 0.8819), (0.9953, 0.8805), (0.9967, 0.8812),
    (0.9982, 0.8835), (0.9997, 0.8827), (1.0011, 0.8821), (1.0024, 0.8827), (1.0038, 0.8808),
    (1.0051, 0.8809), (1.0065, 0.8810), (1.0079, 0.8798), (1.0094, 0.8791), (1.0109, 0.8814),
    (1.0123, 0.8819), (1.0136, 0.8860), (1.0150, 0.8864), (1.0164, 0.8867), (1.0179, 0.8871),
    (1.0193, 0.8866), (1.0208, 0.8898), (1.0222, 0.8912), (1.0235, 0.8893), (1.0248, 0.8903),
    (1.0263, 0.8908), (1.0277, 0.8900), (1.0291, 0.8896), (1.0305, 0.8914), (1.0319, 0.8913),
    (1.0333, 0.8889), (1.0348, 0.8892), (1.0362, 0.8900), (1.0376, 0.8900), (1.0390, 0.8890),
    (1.0403, 0.8896)]

rise = [
    (0.9671, 0.8756), (0.9676, 0.8752), (0.9680, 0.8749), (0.9684, 0.8750), (0.9688, 0.8753),
    (0.9692, 0.8749), (0.9697, 0.8751), (0.9703, 0.8748), (0.9708, 0.8752), (0.9712, 0.8749),
    (0.9716, 0.8745), (0.9720, 0.8750), (0.9724, 0.8753), (0.9728, 0.8747), (0.9731, 0.8755),
    (0.9735, 0.8757), (0.9739, 0.8752), (0.9741, 0.8759), (0.9745, 0.8750), (0.9749, 0.8744),
    (0.9752, 0.8751), (0.9754, 0.8756), (0.9758, 0.8749), (0.9762, 0.8747), (0.9766, 0.8752),
    (0.9770, 0.8750), (0.9773, 0.8753), (0.9777, 0.8749), (0.9781, 0.8752), (0.9785, 0.8748),
    (0.9789, 0.8744), (0.9793, 0.8742), (0.9797, 0.8740), (0.9801, 0.8736), (0.9805, 0.8733),
    (0.9809, 0.8731), (0.9814, 0.8726), (0.9818, 0.8724), (0.9822, 0.8718), (0.9826, 0.8721),
    (0.9830, 0.8715), (0.9834, 0.8711), (0.9838, 0.8708), (0.9842, 0.8702), (0.9846, 0.8700),
    (0.9850, 0.8695), (0.9854, 0.8692), (0.9858, 0.8688), (0.9862, 0.8684), (0.9866, 0.8683),
    (0.9870, 0.8677), (0.9874, 0.8676), (0.9878, 0.8672), (0.9882, 0.8669), (0.9886, 0.8670),
    (0.9890, 0.8666), (0.9894, 0.8664), (0.9898, 0.8667), (0.9902, 0.8661), (0.9906, 0.8664),
    (0.9910, 0.8660), (0.9915, 0.8665), (0.9919, 0.8658), (0.9923, 0.8662), (0.9927, 0.8667),
    (0.9931, 0.8660), (0.9935, 0.8663), (0.9940, 0.8657), (0.9944, 0.8664), (0.9948, 0.8660),
    (0.9952, 0.8666), (0.9956, 0.8659), (0.9960, 0.8662), (0.9965, 0.8668), (0.9969, 0.8661),
    (0.9973, 0.8658), (0.9977, 0.8664), (0.9981, 0.8660), (0.9985, 0.8656), (0.9989, 0.8663),
    (0.9994, 0.8659), (0.9998, 0.8665), (1.0002, 0.8660), (1.0006, 0.8657), (1.0010, 0.8663),
    (1.0014, 0.8659), (1.0019, 0.8666), (1.0023, 0.8661), (1.0027, 0.8658), (1.0031, 0.8664),
    (1.0035, 0.8660), (1.0040, 0.8667), (1.0044, 0.8662), (1.0048, 0.8659), (1.0052, 0.8665),
    (1.0056, 0.8661), (1.0060, 0.8668), (1.0065, 0.8663), (1.0069, 0.8660), (1.0073, 0.8666),
    (1.0077, 0.8662), (1.0081, 0.8669), (1.0085, 0.8664), (1.0089, 0.8667), (1.0094, 0.8670),
    (1.0098, 0.8667), (1.0102, 0.8672), (1.0106, 0.8669), (1.0110, 0.8674), (1.0114, 0.8675),
    (1.0118, 0.8679), (1.0122, 0.8680), (1.0126, 0.8684), (1.0130, 0.8686), (1.0134, 0.8690),
    (1.0138, 0.8692), (1.0142, 0.8696), (1.0146, 0.8699), (1.0150, 0.8703), (1.0154, 0.8706),
    (1.0158, 0.8709), (1.0162, 0.8714), (1.0166, 0.8716), (1.0170, 0.8720), (1.0174, 0.8723),
    (1.0178, 0.8727), (1.0182, 0.8729), (1.0186, 0.8734), (1.0190, 0.8737), (1.0194, 0.8739),
    (1.0198, 0.8742), (1.0202, 0.8745), (1.0206, 0.8747), (1.0210, 0.8750), (1.0214, 0.8753),
    (1.0218, 0.8755), (1.0226, 0.8752), (1.0230, 0.8756), (1.0235, 0.8750), (1.0239, 0.8762),
    (1.0247, 0.8758), (1.0252, 0.8753), (1.0258, 0.8750), (1.0262, 0.8749), (1.0266, 0.8758),
    (1.0272, 0.8755), (1.0280, 0.8746), (1.0285, 0.8751), (1.0291, 0.8753), (1.0296, 0.8742),
    (1.0300, 0.8749), (1.0304, 0.8761), (1.0312, 0.8740), (1.0318, 0.8740), (1.0323, 0.8748),
    (1.0331, 0.8748), (1.0337, 0.8740), (1.0342, 0.8756), (1.0350, 0.8746)]

labels = ["WASP", "EulerCAM", "TRAPPIST", "EulerCAM", "TRAPPIST", "TRAPPIST",
          "TRAPPIST", "TRAPPIST", "TRAPPIST", "RISE"]
label_flux = [0.9930, 0.9773, 0.9716, 0.9552, 0.9436, 0.9285, 0.9134, 0.8985, 0.8834, 0.8688]

BLUE, RED, GREEN, MAGENTA = "#0000ff", "#ff0000", "#00ee00", "#ff00ff"

# ---------------- figure ----------------
sns.set_style("ticks")
plt.rcParams['font.family'] = ['Liberation Sans', 'DejaVu Sans']
for key in ("text.color", "axes.labelcolor", "xtick.color", "ytick.color", "axes.edgecolor"):
    plt.rcParams[key] = "black"

fig = plt.figure(figsize=(6.98, 15.14), dpi=100)
ax_top = fig.add_axes([105 / 698, 1 - 175 / 1514, 574 / 698, 170 / 1514])
ax = fig.add_axes([105 / 698, 1 - 1476 / 1514, 574 / 698, 1251 / 1514])

# top panel
for ph, mg in ((band_phase_milli, band_mag_e4), (band2_phase_milli, band2_mag_e4)):
    sns.scatterplot(x=np.array(ph) / 1000.0, y=np.array(mg) / 1e4,
                    ax=ax_top, color="#808080", s=8, linewidth=0)
sns.scatterplot(x=[p / 1000.0 for p, m in fringe], y=[m / 1e4 for p, m in fringe],
                ax=ax_top, color="#808080", s=6, linewidth=0)
sns.scatterplot(x=[p for p, m in outliers], y=[m for p, m in outliers],
                ax=ax_top, color="#808080", s=3, linewidth=0)
ax_top.set_xlim(0.4528, 1.536)
ax_top.set_ylim(0.10, -0.093)
ax_top.xaxis.set_major_locator(MultipleLocator(0.2))
ax_top.xaxis.set_minor_locator(MultipleLocator(0.2 / 3))
ax_top.yaxis.set_major_locator(MultipleLocator(0.06))
ax_top.yaxis.set_minor_locator(MultipleLocator(0.03))
ax_top.set_ylabel("Rel. mag", fontsize=19)
ax_top.yaxis.set_label_coords(-0.125, 0.58)

# lower panel
for base in model_baselines:
    sns.lineplot(x=model_phase, y=[base - d for d in model_depth], ax=ax,
                 color="black", linewidth=1.8, sort=False, estimator=None, zorder=3)

series = [(list(zip(wasp_phase, wasp_flux)), BLUE), (euler1, RED), (trappist1, GREEN),
          (euler2, RED), (trappist2, GREEN), (trappist3, GREEN), (trappist4, GREEN),
          (trappist5, GREEN), (trappist6, GREEN), (rise, MAGENTA)]
for pts, col in series:
    sns.scatterplot(x=[p for p, f in pts], y=[f for p, f in pts], ax=ax,
                    color=col, s=62, linewidth=0, zorder=2)

for name, yv in zip(labels, label_flux):
    ax.text(1.0277, yv, name, ha="center", va="center", fontsize=14.5, zorder=4)

ax.set_xlim(0.959, 1.041)
ax.set_ylim(0.86, 1.0058)
ax.xaxis.set_major_locator(MultipleLocator(0.02))
ax.xaxis.set_minor_locator(MultipleLocator(0.01))
ax.yaxis.set_major_locator(MultipleLocator(0.01))
ax.yaxis.set_minor_locator(MultipleLocator(0.005))
ax.set_ylabel("Relative flux", fontsize=15)
ax.yaxis.set_label_coords(-0.135, 0.49)

fmt = FuncFormatter(lambda v, pos: "%g" % round(v, 4))
for a in (ax_top, ax):
    a.xaxis.set_major_formatter(fmt)
    a.yaxis.set_major_formatter(fmt)
    a.set_xlabel("")
    a.tick_params(which="both", direction="in", top=True, right=True,
                  width=1.4, labelsize=18, pad=9, color="black", labelcolor="black")
    a.tick_params(which="major", length=8)
    a.tick_params(which="minor", length=4.5)
    for sp in a.spines.values():
        sp.set_linewidth(1.8)
        sp.set_color("black")

fig.savefig("out.png", dpi=100)
